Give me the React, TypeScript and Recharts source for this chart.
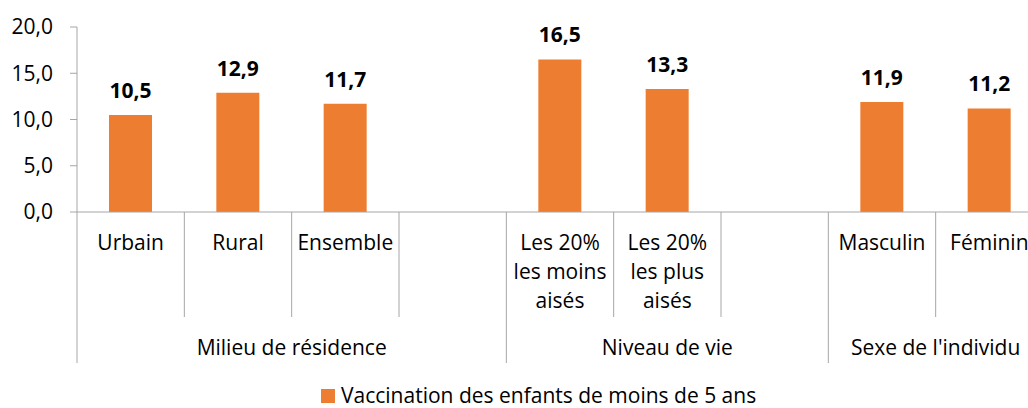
import { Bar, BarChart, LabelList, Legend, XAxis, YAxis } from "recharts";

const categories = ["Urbain", "Rural", "Ensemble", "", "Les 20% les moins aisés", "Les 20% les plus aisés", "", "Masculin", "Féminin"];
const categoryLines = [["Urbain"], ["Rural"], ["Ensemble"], [], ["Les 20%", "les moins", "aisés"], ["Les 20%", "les plus", "aisés"], [], ["Masculin"], ["Féminin"]];
const values = [10.5, 12.9, 11.7, null, 16.5, 13.3, null, 11.9, 11.2];
const groups = [
  { label: "Milieu de résidence", start: 0, size: 4 },
  { label: "Niveau de vie", start: 4, size: 3 },
  { label: "Sexe de l'individu", start: 7, size: 2 },
];
const yTicks = [0, 5, 10, 15, 20];
const seriesName = "Vaccination des enfants de moins de 5 ans";

const W = 1120;
const H = 408;
const MARGIN = { top: 27, right: 77, bottom: 0, left: 0 };
const Y_AXIS_W = 77;
const BAND = (W - MARGIN.left - MARGIN.right - Y_AXIS_W) / categories.length;
const FONT = "'Open Sans', sans-serif";
const FS = 21;
const AXIS_GREY = "#a6a6a6";
const ORANGE = "#ed7d31";

const data = categories.map((name, i) => ({ name, value: values[i] }));

const fmt = (v: number) => v.toFixed(1).replace(".", ",");

function CategoryTick(props: any) {
  const { x, y, payload } = props;
  const i = payload.index;
  const lines = categoryLines[i] || [];
  const group = groups.find((g) => g.start === i);
  const isLast = i === categories.length - 1;
  return (
    <g>
      <line x1={x - BAND / 2} x2={x - BAND / 2} y1={y} y2={y + (group ? 151 : 105)} stroke={AXIS_GREY} strokeWidth={1} />
      {isLast ? <line x1={x + BAND / 2} x2={x + BAND / 2} y1={y} y2={y + 151} stroke={AXIS_GREY} strokeWidth={1} /> : null}
      {lines.map((l, k) => (
        <text key={k} x={x} y={y + 38 + k * 29} textAnchor="middle" fontSize={FS} fill="#000" fontFamily={FONT}>
          {l}
        </text>
      ))}
      {group ? (
        <text x={x + (group.size / 2 - 0.5) * BAND} y={y + 143} textAnchor="middle" fontSize={FS} fill="#000" fontFamily={FONT}>
          {group.label}
        </text>
      ) : null}
    </g>
  );
}

function ValueLabel(props: any) {
  const { x, y, width, value } = props;
  if (value == null) return null;
  return (
    <text x={x + width / 2} y={y - 17} textAnchor="middle" fontSize={FS} fontWeight="bold" fill="#000" fontFamily={FONT}>
      {fmt(value)}
    </text>
  );
}

function LegendContent() {
  return (
    <div
      style={{
        paddingLeft: 321,
        marginTop: 7,
        height: 21,
        lineHeight: "21px",
        display: "flex",
        alignItems: "center",
        fontFamily: FONT,
        fontSize: FS,
        color: "#000",
      }}
    >
      <span style={{ display: "inline-block", width: 14, height: 14, background: ORANGE, marginRight: 6 }} />
      <span>{seriesName}</span>
    </div>
  );
}

export default function App() {
  return (
    <div style={{ position: "fixed", left: 0, top: 0, width: 1028, height: H, overflow: "hidden", background: "#fff" }}>
      <BarChart width={W} height={H} data={data} margin={MARGIN}>
        <XAxis
          dataKey="name"
          interval={0}
          height={166}
          tickSize={0}
          tickMargin={0}
          tickLine={false}
          stroke={AXIS_GREY}
          tick={<CategoryTick />}
        />
        <YAxis
          width={Y_AXIS_W}
          domain={[0, 20]}
          ticks={yTicks}
          tickFormatter={fmt}
          tickSize={7}
          tickMargin={17}
          stroke={AXIS_GREY}
          tick={{ fill: "#000", fontSize: FS, fontFamily: FONT }}
        />
        <Legend verticalAlign="bottom" align="left" height={30} content={<LegendContent />} />
        <Bar dataKey="value" name={seriesName} fill={ORANGE} barSize={43} isAnimationActive={false}>
          <LabelList dataKey="value" content={<ValueLabel />} />
        </Bar>
      </BarChart>
    </div>
  );
}
